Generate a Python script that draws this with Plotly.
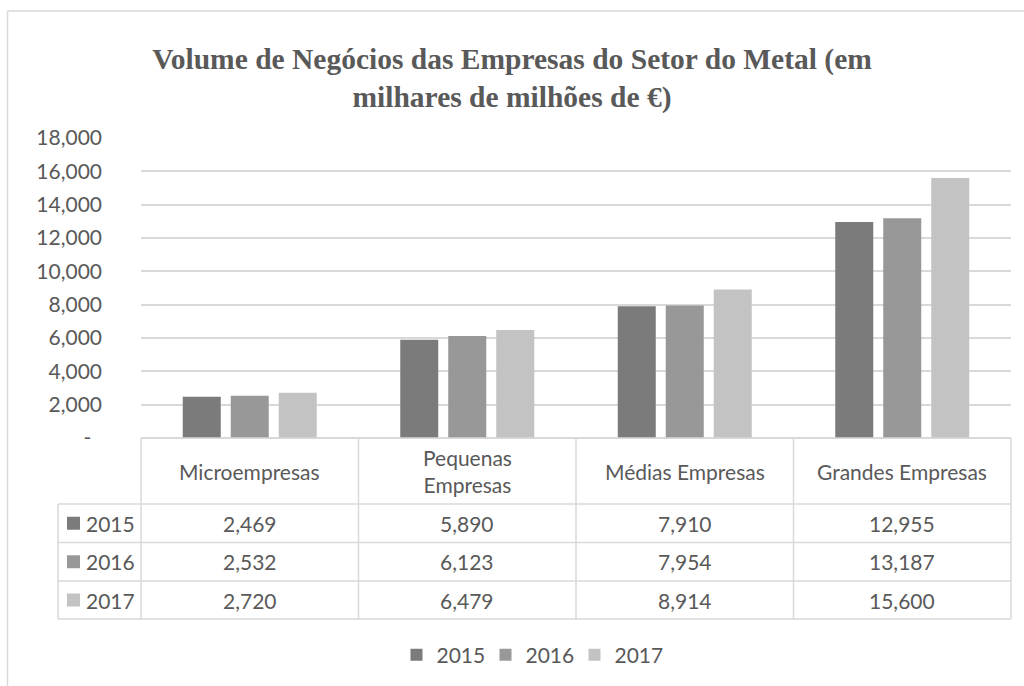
import plotly.graph_objects as go

categories = ["Microempresas", "Pequenas Empresas", "Médias Empresas", "Grandes Empresas"]
header_labels = ["Microempresas", "Pequenas<br>Empresas", "Médias Empresas", "Grandes Empresas"]
years = ["2015", "2016", "2017"]
values = {
    "2015": [2469, 5890, 7910, 12955],
    "2016": [2532, 6123, 7954, 13187],
    "2017": [2720, 6479, 8914, 15600],
}
colors = {"2015": "#7b7b7b", "2016": "#989898", "2017": "#c3c3c3"}
y_tickvals = [0, 2000, 4000, 6000, 8000, 10000, 12000, 14000, 16000, 18000]
y_ticktext = ["-\u00a0\u00a0", "2,000", "4,000", "6,000", "8,000", "10,000", "12,000", "14,000", "16,000", "18,000"]
title_text = "Volume de Negócios das Empresas do Setor do Metal (em<br>milhares de milhões de €)"

W, H = 1024, 686
L, R, T, B = 141, 1011, 138, 438
TXT = "#595959"
LINE = "#d9d9d9"
FONT = "Lato"
FS = 21

def px(x):
    return (x - L) / (R - L)

def py(y):
    return (B - y) / (B - T)

fig = go.Figure()
for yr in years:
    fig.add_trace(go.Bar(x=categories, y=values[yr], name=yr,
                         marker=dict(color=colors[yr], line=dict(width=0))))

shapes = []
# outer chart border (open at right/bottom)
shapes.append(dict(type="line", xref="paper", yref="paper", x0=px(7.5), x1=px(1030), y0=py(11), y1=py(11),
                   line=dict(color=LINE, width=1.5)))
shapes.append(dict(type="line", xref="paper", yref="paper", x0=px(7.5), x1=px(7.5), y0=py(11), y1=py(700),
                   line=dict(color=LINE, width=1.5)))

# data table grid
row_lines = [438, 504, 542.5, 581, 619]
col_lines = [141, 358.5, 576, 793.5, 1011]
for i, yy in enumerate(row_lines):
    x0 = 141 if i == 0 else 58
    shapes.append(dict(type="line", xref="paper", yref="paper", x0=px(x0), x1=px(1011), y0=py(yy), y1=py(yy),
                       line=dict(color=LINE, width=1.5)))
for xx in col_lines:
    shapes.append(dict(type="line", xref="paper", yref="paper", x0=px(xx), x1=px(xx), y0=py(438), y1=py(619),
                       line=dict(color=LINE, width=1.5)))
shapes.append(dict(type="line", xref="paper", yref="paper", x0=px(58), x1=px(58), y0=py(504), y1=py(619),
                   line=dict(color=LINE, width=1.5)))

annotations = []
for j, cat in enumerate(categories):
    annotations.append(dict(x=cat, xref="x", y=py(471), yref="paper", text=header_labels[j], showarrow=False,
                            font=dict(family=FONT, size=FS, color=TXT), xanchor="center", yanchor="middle"))
for i, yr in enumerate(years):
    yc = (row_lines[i + 1] + row_lines[i + 2]) / 2
    # legend key square in the table
    shapes.append(dict(type="rect", xref="paper", yref="paper", x0=px(67), x1=px(80), y0=py(yc - 6.5), y1=py(yc + 6.5),
                       fillcolor=colors[yr], line=dict(width=0)))
    annotations.append(dict(x=px(84), xref="paper", y=py(yc), yref="paper", text=yr, showarrow=False,
                            font=dict(family=FONT, size=FS, color=TXT), xanchor="left", yanchor="middle"))
    for j, cat in enumerate(categories):
        annotations.append(dict(x=cat, xref="x", y=py(yc), yref="paper", text=f"{values[yr][j]:,}", showarrow=False,
                                font=dict(family=FONT, size=FS, color=TXT), xanchor="center", yanchor="middle"))

fig.update_layout(
    width=W, height=H,
    margin=dict(l=L, r=W - R, t=T, b=H - B),
    paper_bgcolor="white", plot_bgcolor="white",
    title=dict(text=title_text, x=0.5, xref="container", xanchor="center", y=1 - 69 / H, yanchor="middle",
               font=dict(family="Liberation Serif", size=29.5, color=TXT, weight="bold")),
    barmode="group", bargap=0.338, bargroupgap=0.208,
    xaxis=dict(showticklabels=False, showgrid=False, showline=False, zeroline=False, ticks=""),
    yaxis=dict(range=[0, 18000], tickvals=y_tickvals, ticktext=y_ticktext, showgrid=True, gridcolor=LINE,
               gridwidth=1.5, zeroline=True, zerolinecolor=LINE, zerolinewidth=1.5, showline=False,
               ticks="", ticklabelstandoff=38, tickfont=dict(family=FONT, size=FS, color=TXT)),
    legend=dict(orientation="h", xref="container", x=(512 + 18) / W, xanchor="center", yref="container",
                y=1 - 655 / H, yanchor="middle", font=dict(family=FONT, size=FS, color=TXT), itemwidth=30,
                entrywidth=44, entrywidthmode="pixels", traceorder="normal"),
    shapes=shapes, annotations=annotations,
)

fig.write_html("out.html", config={"displayModeBar": False},
               post_script="document.body.style.margin='0';document.body.style.overflow='hidden';")
